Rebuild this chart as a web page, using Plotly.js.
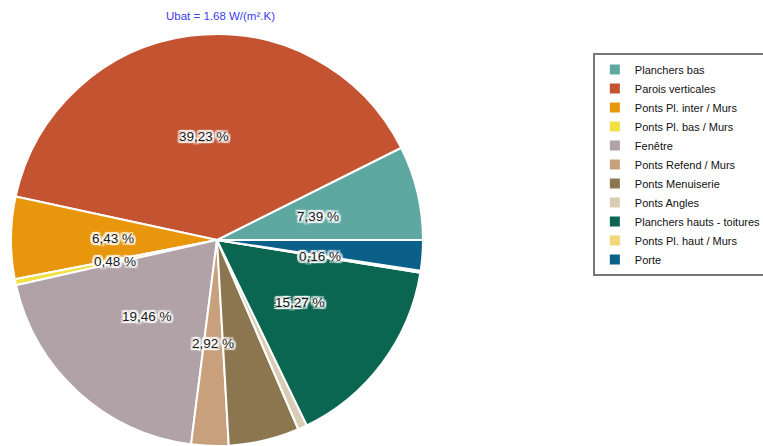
<!DOCTYPE html>
<html>
<head>
<meta charset="utf-8">
<script src="https://cdn.plot.ly/plotly-3.0.1.min.js"></script>
<style>html,body{margin:0;padding:0;background:#fff;}#chart{width:763px;height:446px;}</style>
</head>
<body>
<div id="chart"></div>
<script>
const labels = ["Planchers bas", "Parois verticales", "Ponts Pl. inter / Murs", "Ponts Pl. bas / Murs", "Fenêtre", "Ponts Refend / Murs", "Ponts Menuiserie", "Ponts Angles", "Planchers hauts - toitures", "Ponts Pl. haut / Murs", "Porte"];
const values = [7.39, 39.23, 6.43, 0.48, 19.46, 2.92, 5.55, 0.72, 15.27, 0.16, 2.39];
const shownLabels = [true, true, true, true, true, true, false, false, true, true, false];
const colors = ["#5fa8a2", "#c45431", "#e8960c", "#f2e040", "#b0a2a6", "#c8a07c", "#8c7650", "#d8ccb4", "#0a6650", "#f4d67a", "#0a6088"];
const titleText = "Ubat = 1.68 W/(m².K)";

const W = 763, H = 446;
const pieDomain = {x: [0.0144, 0.5544], y: [0, 0.9238]};
const fontFam = 'Liberation Sans, Arial, sans-serif';

const total = values.reduce((a, b) => a + b, 0);
const texts = values.map(v => v.toFixed(2).replace('.', ',') + ' %');

// label positions derived from the slice mid-angles (counterclockwise from 3 o'clock)
const cx = (pieDomain.x[0] + pieDomain.x[1]) / 2;
const cy = (pieDomain.y[0] + pieDomain.y[1]) / 2;
const Rpx = Math.min(W * (pieDomain.x[1] - pieDomain.x[0]), H * (pieDomain.y[1] - pieDomain.y[0])) / 2;
const labelRadius = 0.505;
const halo = '2px 2px 1px #fff, -2px -2px 1px #fff, 2px -2px 1px #fff, -2px 2px 1px #fff, 0 2px 1px #fff, 0 -2px 1px #fff, 2px 0 1px #fff, -2px 0 1px #fff';
let cum = 0;
const annotations = [];
values.forEach((v, i) => {
  const th = (cum + v / 2) / total * 2 * Math.PI;
  cum += v;
  if (!shownLabels[i]) return;
  annotations.push({
    xref: 'paper', yref: 'paper',
    x: cx + labelRadius * Rpx * Math.cos(th) / W,
    y: cy + labelRadius * Rpx * Math.sin(th) / H,
    text: texts[i], showarrow: false, xanchor: 'center', yanchor: 'middle',
    font: {family: fontFam, size: 13.5, color: '#1a1a1a', shadow: halo}
  });
});

const pie = {
  type: 'pie',
  labels: labels,
  values: values,
  textinfo: 'none',
  hoverinfo: 'label+percent',
  sort: false,
  direction: 'counterclockwise',
  rotation: 90 - 360 * values[0] / total,
  marker: {colors: colors, line: {color: '#ffffff', width: 2}},
  domain: pieDomain
};

const layout = {
  width: W, height: H,
  margin: {l: 0, r: 0, t: 0, b: 0, autoexpand: false},
  paper_bgcolor: '#fff',
  title: {text: titleText, font: {family: fontFam, size: 11.5, color: '#3b3bf0'}, x: 0.289, xanchor: 'center', xref: 'paper', y: 0.964, yref: 'container', yanchor: 'middle'},
  annotations: annotations,
  showlegend: true,
  legend: {x: 0.777, y: 0.881, xanchor: 'left', yanchor: 'top', bgcolor: '#fff', bordercolor: '#777', borderwidth: 2, font: {family: fontFam, size: 11, color: '#111'}, traceorder: 'normal', itemwidth: 30}
};

Plotly.newPlot('chart', [pie], layout, {displayModeBar: false, staticPlot: true});
</script>
</body>
</html>
